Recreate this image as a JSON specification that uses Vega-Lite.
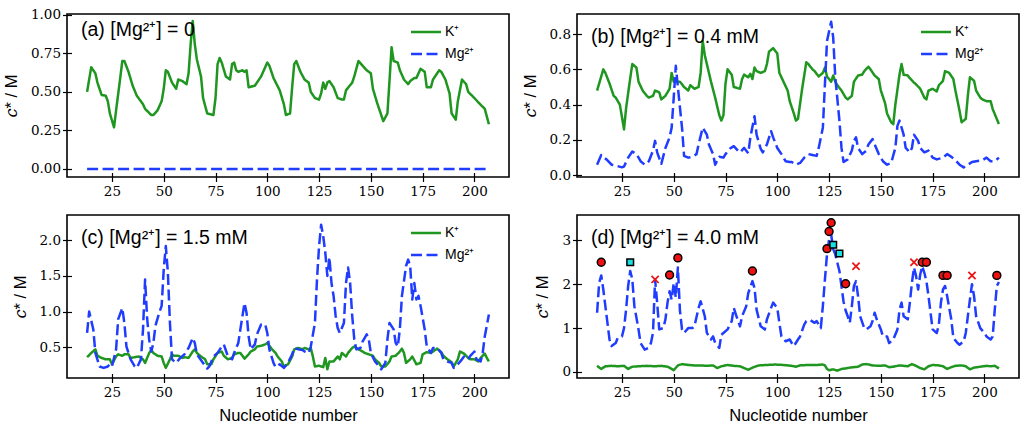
{
  "$schema": "https://vega.github.io/schema/vega-lite/v6.json",
  "background": "white",
  "padding": {"left": 2, "top": 6, "right": 5, "bottom": 5},
  "config": {
    "font": "Liberation Sans",
    "view": {"stroke": "black", "strokeWidth": 1.6},
    "axis": {
      "domain": false, "grid": false, "offset": -4.5, "tickSize": 9, "tickWidth": 1.2,
      "tickColor": "black", "labelFont": "DejaVu Serif", "labelFontSize": 13.5, "labelColor": "black",
      "titleFont": "Liberation Sans", "titleFontSize": 16.5, "titleFontWeight": "normal", "titleColor": "black"
    },
    "axisX": {"labelPadding": 3, "titlePadding": 8},
    "axisY": {"labelPadding": 2, "titlePadding": 11},
    "legend": {
      "orient": "none", "legendX": 352, "legendY": 11, "padding": 0, "symbolType": "M-3,0H3", "symbolSize": 100,
      "symbolStrokeWidth": 2.5, "labelFont": "Liberation Sans", "labelFontSize": 14, "labelColor": "black",
      "labelOffset": 12, "rowPadding": 8
    },
    "title": {
      "anchor": "start", "frame": "group", "font": "Liberation Sans", "fontSize": 19.5, "fontWeight": "normal",
      "color": "black", "dx": 14, "offset": -33, "baseline": "alphabetic"
    },
    "line": {"strokeWidth": 2.5, "strokeJoin": "round"}
  },
  "datasets": {
    "aK": [
      {"n":13,"K":0.50},{"n":15,"K":0.66},{"n":17,"K":0.62},{"n":18,"K":0.56},{"n":20,"K":0.48},{"n":22,"K":0.475},{"n":23,"K":0.44},{"n":24,"K":0.36},{"n":26,"K":0.27},{"n":27,"K":0.38},{"n":29,"K":0.59},{"n":30,"K":0.70},{"n":31,"K":0.70},{"n":33,"K":0.63},{"n":35,"K":0.54},{"n":37,"K":0.475},{"n":40,"K":0.42},{"n":41,"K":0.39},{"n":44,"K":0.35},{"n":45,"K":0.35},{"n":47,"K":0.38},{"n":49,"K":0.44},{"n":50,"K":0.52},{"n":51,"K":0.64},{"n":52,"K":0.63},{"n":54,"K":0.56},{"n":56,"K":0.52},{"n":57,"K":0.58},{"n":59,"K":0.57},{"n":61,"K":0.55},{"n":62,"K":0.62},{"n":63,"K":0.81},{"n":64,"K":0.96},{"n":65,"K":0.81},{"n":66,"K":0.71},{"n":68,"K":0.60},{"n":69,"K":0.46},{"n":71,"K":0.36},{"n":74,"K":0.35},{"n":75,"K":0.46},{"n":76,"K":0.68},{"n":77,"K":0.72},{"n":78,"K":0.69},{"n":80,"K":0.60},{"n":82,"K":0.58},{"n":83,"K":0.68},{"n":84,"K":0.69},{"n":85,"K":0.64},{"n":86,"K":0.63},{"n":88,"K":0.64},{"n":89,"K":0.63},{"n":90,"K":0.64},{"n":91,"K":0.53},{"n":94,"K":0.54},{"n":95,"K":0.56},{"n":97,"K":0.60},{"n":100,"K":0.69},{"n":101,"K":0.67},{"n":103,"K":0.59},{"n":106,"K":0.51},{"n":108,"K":0.42},{"n":109,"K":0.35},{"n":111,"K":0.36},{"n":112,"K":0.53},{"n":113,"K":0.68},{"n":114,"K":0.70},{"n":116,"K":0.63},{"n":118,"K":0.58},{"n":120,"K":0.56},{"n":121,"K":0.50},{"n":123,"K":0.46},{"n":125,"K":0.45},{"n":126,"K":0.49},{"n":127,"K":0.56},{"n":128,"K":0.52},{"n":129,"K":0.56},{"n":130,"K":0.57},{"n":132,"K":0.53},{"n":134,"K":0.46},{"n":136,"K":0.45},{"n":137,"K":0.45},{"n":138,"K":0.51},{"n":141,"K":0.56},{"n":142,"K":0.60},{"n":144,"K":0.70},{"n":146,"K":0.67},{"n":148,"K":0.64},{"n":150,"K":0.62},{"n":151,"K":0.52},{"n":153,"K":0.43},{"n":155,"K":0.35},{"n":156,"K":0.31},{"n":158,"K":0.36},{"n":159,"K":0.57},{"n":160,"K":0.79},{"n":161,"K":0.70},{"n":163,"K":0.69},{"n":164,"K":0.64},{"n":166,"K":0.58},{"n":168,"K":0.55},{"n":169,"K":0.57},{"n":171,"K":0.59},{"n":172,"K":0.59},{"n":174,"K":0.65},{"n":176,"K":0.63},{"n":177,"K":0.53},{"n":179,"K":0.53},{"n":180,"K":0.58},{"n":183,"K":0.64},{"n":184,"K":0.63},{"n":186,"K":0.58},{"n":188,"K":0.49},{"n":189,"K":0.36},{"n":191,"K":0.32},{"n":192,"K":0.44},{"n":194,"K":0.58},{"n":196,"K":0.55},{"n":197,"K":0.50},{"n":200,"K":0.46},{"n":202,"K":0.43},{"n":205,"K":0.39},{"n":207,"K":0.29}
    ],
    "aMg": [{"n":13,"Mg":0},{"n":207,"Mg":0}],
    "bK": [
      {"n":13,"K":0.48},{"n":16,"K":0.60},{"n":17,"K":0.58},{"n":19,"K":0.52},{"n":21,"K":0.45},{"n":22,"K":0.44},{"n":24,"K":0.40},{"n":26,"K":0.26},{"n":27,"K":0.38},{"n":29,"K":0.55},{"n":30,"K":0.63},{"n":32,"K":0.61},{"n":33,"K":0.53},{"n":35,"K":0.48},{"n":37,"K":0.45},{"n":38,"K":0.44},{"n":40,"K":0.45},{"n":41,"K":0.48},{"n":43,"K":0.47},{"n":44,"K":0.43},{"n":46,"K":0.45},{"n":48,"K":0.49},{"n":49,"K":0.58},{"n":50,"K":0.53},{"n":52,"K":0.53},{"n":53,"K":0.53},{"n":55,"K":0.50},{"n":57,"K":0.48},{"n":58,"K":0.51},{"n":60,"K":0.49},{"n":62,"K":0.50},{"n":63,"K":0.58},{"n":64,"K":0.76},{"n":65,"K":0.68},{"n":67,"K":0.58},{"n":68,"K":0.53},{"n":70,"K":0.44},{"n":72,"K":0.34},{"n":73,"K":0.31},{"n":74,"K":0.34},{"n":75,"K":0.52},{"n":76,"K":0.60},{"n":78,"K":0.57},{"n":79,"K":0.50},{"n":82,"K":0.49},{"n":83,"K":0.545},{"n":84,"K":0.57},{"n":86,"K":0.555},{"n":87,"K":0.575},{"n":88,"K":0.545},{"n":89,"K":0.61},{"n":90,"K":0.59},{"n":92,"K":0.58},{"n":94,"K":0.59},{"n":95,"K":0.63},{"n":96,"K":0.70},{"n":98,"K":0.72},{"n":100,"K":0.69},{"n":101,"K":0.58},{"n":103,"K":0.53},{"n":105,"K":0.48},{"n":106,"K":0.42},{"n":108,"K":0.35},{"n":109,"K":0.31},{"n":110,"K":0.32},{"n":112,"K":0.49},{"n":114,"K":0.64},{"n":115,"K":0.63},{"n":117,"K":0.60},{"n":118,"K":0.59},{"n":120,"K":0.56},{"n":122,"K":0.58},{"n":123,"K":0.61},{"n":124,"K":0.56},{"n":126,"K":0.53},{"n":127,"K":0.565},{"n":128,"K":0.53},{"n":129,"K":0.51},{"n":131,"K":0.48},{"n":133,"K":0.44},{"n":134,"K":0.43},{"n":136,"K":0.45},{"n":137,"K":0.53},{"n":139,"K":0.565},{"n":141,"K":0.57},{"n":142,"K":0.59},{"n":144,"K":0.615},{"n":145,"K":0.60},{"n":147,"K":0.565},{"n":149,"K":0.545},{"n":150,"K":0.48},{"n":152,"K":0.41},{"n":153,"K":0.35},{"n":155,"K":0.30},{"n":156,"K":0.29},{"n":157,"K":0.40},{"n":159,"K":0.57},{"n":160,"K":0.63},{"n":161,"K":0.57},{"n":163,"K":0.565},{"n":164,"K":0.55},{"n":166,"K":0.525},{"n":167,"K":0.515},{"n":169,"K":0.49},{"n":171,"K":0.44},{"n":172,"K":0.43},{"n":173,"K":0.48},{"n":175,"K":0.49},{"n":177,"K":0.475},{"n":178,"K":0.51},{"n":180,"K":0.535},{"n":181,"K":0.59},{"n":183,"K":0.58},{"n":185,"K":0.545},{"n":186,"K":0.48},{"n":188,"K":0.365},{"n":189,"K":0.30},{"n":191,"K":0.32},{"n":192,"K":0.45},{"n":193,"K":0.555},{"n":195,"K":0.535},{"n":196,"K":0.48},{"n":198,"K":0.44},{"n":199,"K":0.43},{"n":201,"K":0.42},{"n":203,"K":0.42},{"n":204,"K":0.375},{"n":207,"K":0.29}
    ],
    "bMg": [
      {"n":13,"Mg":0.06},{"n":15,"Mg":0.115},{"n":18,"Mg":0.085},{"n":20,"Mg":0.06},{"n":22,"Mg":0.055},{"n":25,"Mg":0.045},{"n":26,"Mg":0.05},{"n":28,"Mg":0.10},{"n":30,"Mg":0.135},{"n":32,"Mg":0.12},{"n":34,"Mg":0.08},{"n":36,"Mg":0.06},{"n":38,"Mg":0.08},{"n":40,"Mg":0.14},{"n":41,"Mg":0.195},{"n":42,"Mg":0.13},{"n":44,"Mg":0.065},{"n":45,"Mg":0.11},{"n":46,"Mg":0.155},{"n":48,"Mg":0.215},{"n":49,"Mg":0.27},{"n":50,"Mg":0.44},{"n":51,"Mg":0.62},{"n":52,"Mg":0.50},{"n":54,"Mg":0.27},{"n":55,"Mg":0.11},{"n":57,"Mg":0.10},{"n":59,"Mg":0.105},{"n":61,"Mg":0.12},{"n":62,"Mg":0.175},{"n":64,"Mg":0.27},{"n":66,"Mg":0.23},{"n":67,"Mg":0.175},{"n":69,"Mg":0.12},{"n":70,"Mg":0.06},{"n":72,"Mg":0.105},{"n":74,"Mg":0.10},{"n":75,"Mg":0.12},{"n":77,"Mg":0.15},{"n":79,"Mg":0.165},{"n":81,"Mg":0.14},{"n":82,"Mg":0.13},{"n":84,"Mg":0.155},{"n":86,"Mg":0.125},{"n":87,"Mg":0.215},{"n":89,"Mg":0.335},{"n":90,"Mg":0.23},{"n":92,"Mg":0.15},{"n":93,"Mg":0.13},{"n":95,"Mg":0.175},{"n":97,"Mg":0.25},{"n":98,"Mg":0.215},{"n":100,"Mg":0.155},{"n":102,"Mg":0.12},{"n":104,"Mg":0.08},{"n":106,"Mg":0.075},{"n":107,"Mg":0.075},{"n":109,"Mg":0.06},{"n":111,"Mg":0.07},{"n":113,"Mg":0.10},{"n":115,"Mg":0.12},{"n":117,"Mg":0.115},{"n":119,"Mg":0.11},{"n":120,"Mg":0.155},{"n":122,"Mg":0.27},{"n":123,"Mg":0.515},{"n":124,"Mg":0.76},{"n":126,"Mg":0.87},{"n":127,"Mg":0.78},{"n":128,"Mg":0.555},{"n":130,"Mg":0.31},{"n":131,"Mg":0.155},{"n":132,"Mg":0.075},{"n":134,"Mg":0.09},{"n":136,"Mg":0.14},{"n":137,"Mg":0.195},{"n":138,"Mg":0.215},{"n":139,"Mg":0.155},{"n":141,"Mg":0.12},{"n":143,"Mg":0.14},{"n":144,"Mg":0.175},{"n":146,"Mg":0.205},{"n":147,"Mg":0.175},{"n":149,"Mg":0.12},{"n":151,"Mg":0.08},{"n":153,"Mg":0.06},{"n":155,"Mg":0.07},{"n":157,"Mg":0.155},{"n":158,"Mg":0.28},{"n":159,"Mg":0.31},{"n":161,"Mg":0.23},{"n":162,"Mg":0.155},{"n":164,"Mg":0.13},{"n":165,"Mg":0.155},{"n":166,"Mg":0.23},{"n":168,"Mg":0.195},{"n":169,"Mg":0.155},{"n":171,"Mg":0.13},{"n":173,"Mg":0.14},{"n":175,"Mg":0.10},{"n":177,"Mg":0.09},{"n":180,"Mg":0.10},{"n":182,"Mg":0.12},{"n":184,"Mg":0.105},{"n":186,"Mg":0.085},{"n":188,"Mg":0.06},{"n":190,"Mg":0.045},{"n":192,"Mg":0.06},{"n":194,"Mg":0.075},{"n":196,"Mg":0.08},{"n":199,"Mg":0.085},{"n":201,"Mg":0.10},{"n":203,"Mg":0.08},{"n":205,"Mg":0.08},{"n":207,"Mg":0.10}
    ],
    "cK": [
      {"n":13,"K":0.36},{"n":15,"K":0.42},{"n":17,"K":0.47},{"n":18,"K":0.38},{"n":20,"K":0.35},{"n":22,"K":0.33},{"n":24,"K":0.33},{"n":25,"K":0.26},{"n":27,"K":0.37},{"n":28,"K":0.40},{"n":30,"K":0.38},{"n":31,"K":0.40},{"n":33,"K":0.40},{"n":34,"K":0.35},{"n":36,"K":0.36},{"n":38,"K":0.37},{"n":40,"K":0.33},{"n":41,"K":0.28},{"n":43,"K":0.42},{"n":44,"K":0.46},{"n":45,"K":0.42},{"n":47,"K":0.38},{"n":49,"K":0.37},{"n":50,"K":0.28},{"n":51,"K":0.21},{"n":53,"K":0.33},{"n":54,"K":0.40},{"n":55,"K":0.38},{"n":57,"K":0.38},{"n":59,"K":0.35},{"n":60,"K":0.36},{"n":62,"K":0.35},{"n":64,"K":0.44},{"n":65,"K":0.47},{"n":66,"K":0.42},{"n":68,"K":0.37},{"n":70,"K":0.33},{"n":71,"K":0.26},{"n":73,"K":0.26},{"n":74,"K":0.33},{"n":76,"K":0.42},{"n":78,"K":0.44},{"n":79,"K":0.38},{"n":81,"K":0.33},{"n":83,"K":0.35},{"n":84,"K":0.40},{"n":86,"K":0.42},{"n":87,"K":0.42},{"n":89,"K":0.34},{"n":91,"K":0.40},{"n":92,"K":0.44},{"n":94,"K":0.47},{"n":95,"K":0.51},{"n":97,"K":0.52},{"n":99,"K":0.54},{"n":100,"K":0.56},{"n":102,"K":0.48},{"n":104,"K":0.42},{"n":105,"K":0.37},{"n":107,"K":0.30},{"n":108,"K":0.23},{"n":110,"K":0.26},{"n":112,"K":0.37},{"n":113,"K":0.47},{"n":115,"K":0.49},{"n":117,"K":0.47},{"n":118,"K":0.49},{"n":120,"K":0.47},{"n":121,"K":0.49},{"n":122,"K":0.37},{"n":123,"K":0.23},{"n":125,"K":0.24},{"n":127,"K":0.22},{"n":128,"K":0.35},{"n":129,"K":0.19},{"n":130,"K":0.30},{"n":132,"K":0.30},{"n":134,"K":0.37},{"n":135,"K":0.33},{"n":136,"K":0.42},{"n":138,"K":0.37},{"n":139,"K":0.42},{"n":141,"K":0.49},{"n":142,"K":0.51},{"n":144,"K":0.47},{"n":146,"K":0.44},{"n":147,"K":0.42},{"n":149,"K":0.40},{"n":151,"K":0.38},{"n":152,"K":0.33},{"n":154,"K":0.28},{"n":155,"K":0.23},{"n":157,"K":0.23},{"n":159,"K":0.30},{"n":160,"K":0.37},{"n":162,"K":0.38},{"n":164,"K":0.44},{"n":165,"K":0.48},{"n":166,"K":0.42},{"n":167,"K":0.28},{"n":169,"K":0.33},{"n":170,"K":0.37},{"n":172,"K":0.26},{"n":174,"K":0.28},{"n":175,"K":0.40},{"n":177,"K":0.43},{"n":179,"K":0.42},{"n":180,"K":0.44},{"n":182,"K":0.48},{"n":184,"K":0.43},{"n":185,"K":0.38},{"n":187,"K":0.33},{"n":189,"K":0.29},{"n":190,"K":0.23},{"n":192,"K":0.33},{"n":193,"K":0.44},{"n":195,"K":0.41},{"n":197,"K":0.35},{"n":198,"K":0.33},{"n":200,"K":0.33},{"n":202,"K":0.30},{"n":203,"K":0.35},{"n":205,"K":0.41},{"n":206,"K":0.35},{"n":207,"K":0.30}
    ],
    "cMg": [
      {"n":13,"Mg":0.70},{"n":14,"Mg":1.00},{"n":16,"Mg":0.75},{"n":17,"Mg":0.42},{"n":19,"Mg":0.23},{"n":21,"Mg":0.21},{"n":23,"Mg":0.23},{"n":24,"Mg":0.26},{"n":25,"Mg":0.23},{"n":27,"Mg":0.47},{"n":28,"Mg":0.89},{"n":30,"Mg":1.05},{"n":31,"Mg":0.84},{"n":32,"Mg":0.51},{"n":34,"Mg":0.33},{"n":36,"Mg":0.23},{"n":37,"Mg":0.21},{"n":39,"Mg":0.33},{"n":40,"Mg":0.75},{"n":41,"Mg":1.45},{"n":42,"Mg":0.90},{"n":43,"Mg":0.60},{"n":44,"Mg":0.44},{"n":45,"Mg":0.56},{"n":46,"Mg":0.80},{"n":48,"Mg":1.00},{"n":49,"Mg":1.08},{"n":50,"Mg":1.59},{"n":51,"Mg":1.92},{"n":52,"Mg":1.55},{"n":53,"Mg":0.84},{"n":54,"Mg":0.33},{"n":56,"Mg":0.28},{"n":58,"Mg":0.35},{"n":60,"Mg":0.40},{"n":62,"Mg":0.49},{"n":64,"Mg":0.63},{"n":65,"Mg":0.56},{"n":66,"Mg":0.40},{"n":69,"Mg":0.28},{"n":71,"Mg":0.20},{"n":72,"Mg":0.23},{"n":74,"Mg":0.37},{"n":76,"Mg":0.42},{"n":78,"Mg":0.51},{"n":79,"Mg":0.54},{"n":81,"Mg":0.37},{"n":83,"Mg":0.33},{"n":84,"Mg":0.42},{"n":86,"Mg":0.56},{"n":87,"Mg":0.75},{"n":89,"Mg":1.12},{"n":90,"Mg":0.98},{"n":91,"Mg":0.65},{"n":92,"Mg":0.47},{"n":94,"Mg":0.54},{"n":95,"Mg":0.68},{"n":97,"Mg":0.82},{"n":99,"Mg":0.82},{"n":100,"Mg":0.70},{"n":101,"Mg":0.47},{"n":103,"Mg":0.28},{"n":104,"Mg":0.22},{"n":106,"Mg":0.26},{"n":108,"Mg":0.21},{"n":110,"Mg":0.28},{"n":112,"Mg":0.40},{"n":113,"Mg":0.49},{"n":115,"Mg":0.47},{"n":117,"Mg":0.46},{"n":118,"Mg":0.44},{"n":120,"Mg":0.42},{"n":121,"Mg":0.51},{"n":123,"Mg":0.84},{"n":124,"Mg":1.45},{"n":125,"Mg":1.92},{"n":126,"Mg":2.22},{"n":127,"Mg":2.06},{"n":128,"Mg":1.83},{"n":129,"Mg":1.50},{"n":130,"Mg":1.76},{"n":131,"Mg":1.40},{"n":132,"Mg":1.22},{"n":133,"Mg":0.94},{"n":134,"Mg":0.77},{"n":135,"Mg":0.70},{"n":137,"Mg":0.84},{"n":138,"Mg":1.40},{"n":139,"Mg":1.62},{"n":140,"Mg":1.40},{"n":141,"Mg":0.94},{"n":142,"Mg":0.61},{"n":143,"Mg":0.47},{"n":145,"Mg":0.49},{"n":146,"Mg":0.58},{"n":148,"Mg":0.68},{"n":149,"Mg":0.61},{"n":150,"Mg":0.42},{"n":152,"Mg":0.30},{"n":154,"Mg":0.23},{"n":155,"Mg":0.19},{"n":157,"Mg":0.28},{"n":158,"Mg":0.61},{"n":159,"Mg":0.84},{"n":161,"Mg":0.75},{"n":162,"Mg":0.56},{"n":163,"Mg":0.51},{"n":164,"Mg":0.75},{"n":165,"Mg":1.22},{"n":167,"Mg":1.64},{"n":168,"Mg":1.73},{"n":169,"Mg":1.64},{"n":170,"Mg":1.17},{"n":171,"Mg":1.40},{"n":172,"Mg":1.17},{"n":173,"Mg":1.22},{"n":174,"Mg":1.08},{"n":176,"Mg":0.75},{"n":177,"Mg":0.51},{"n":179,"Mg":0.42},{"n":180,"Mg":0.49},{"n":182,"Mg":0.49},{"n":184,"Mg":0.42},{"n":185,"Mg":0.33},{"n":187,"Mg":0.30},{"n":189,"Mg":0.28},{"n":190,"Mg":0.21},{"n":192,"Mg":0.26},{"n":194,"Mg":0.33},{"n":195,"Mg":0.37},{"n":197,"Mg":0.33},{"n":198,"Mg":0.38},{"n":200,"Mg":0.44},{"n":201,"Mg":0.33},{"n":203,"Mg":0.30},{"n":204,"Mg":0.42},{"n":205,"Mg":0.65},{"n":207,"Mg":0.96}
    ],
    "dK": [
      {"n":13,"K":0.14},{"n":15,"K":0.07},{"n":17,"K":0.13},{"n":20,"K":0.14},{"n":23,"K":0.13},{"n":26,"K":0.14},{"n":28,"K":0.07},{"n":30,"K":0.12},{"n":33,"K":0.13},{"n":37,"K":0.14},{"n":41,"K":0.13},{"n":44,"K":0.14},{"n":47,"K":0.12},{"n":49,"K":0.07},{"n":50,"K":0.04},{"n":52,"K":0.15},{"n":54,"K":0.18},{"n":57,"K":0.16},{"n":60,"K":0.15},{"n":63,"K":0.15},{"n":66,"K":0.14},{"n":69,"K":0.15},{"n":71,"K":0.09},{"n":73,"K":0.13},{"n":76,"K":0.16},{"n":79,"K":0.14},{"n":82,"K":0.13},{"n":84,"K":0.09},{"n":86,"K":0.05},{"n":88,"K":0.10},{"n":91,"K":0.15},{"n":95,"K":0.16},{"n":99,"K":0.17},{"n":103,"K":0.16},{"n":107,"K":0.14},{"n":109,"K":0.12},{"n":111,"K":0.15},{"n":115,"K":0.16},{"n":119,"K":0.16},{"n":122,"K":0.17},{"n":123,"K":0.15},{"n":124,"K":0.07},{"n":125,"K":0.04},{"n":127,"K":0.06},{"n":129,"K":0.03},{"n":131,"K":0.07},{"n":133,"K":0.08},{"n":135,"K":0.10},{"n":137,"K":0.11},{"n":139,"K":0.12},{"n":141,"K":0.17},{"n":143,"K":0.18},{"n":146,"K":0.15},{"n":149,"K":0.14},{"n":152,"K":0.15},{"n":154,"K":0.11},{"n":156,"K":0.12},{"n":159,"K":0.15},{"n":161,"K":0.14},{"n":163,"K":0.13},{"n":165,"K":0.18},{"n":167,"K":0.14},{"n":169,"K":0.09},{"n":171,"K":0.06},{"n":173,"K":0.13},{"n":175,"K":0.16},{"n":178,"K":0.15},{"n":180,"K":0.13},{"n":182,"K":0.07},{"n":184,"K":0.11},{"n":186,"K":0.14},{"n":189,"K":0.15},{"n":191,"K":0.13},{"n":193,"K":0.06},{"n":195,"K":0.10},{"n":198,"K":0.12},{"n":201,"K":0.14},{"n":203,"K":0.13},{"n":205,"K":0.14},{"n":207,"K":0.08}
    ],
    "dMg": [
      {"n":13,"Mg":1.35},{"n":14,"Mg":2.03},{"n":15,"Mg":2.20},{"n":16,"Mg":1.88},{"n":18,"Mg":1.12},{"n":19,"Mg":0.74},{"n":20,"Mg":0.59},{"n":22,"Mg":0.66},{"n":23,"Mg":0.78},{"n":25,"Mg":0.81},{"n":26,"Mg":1.00},{"n":27,"Mg":1.42},{"n":28,"Mg":1.96},{"n":29,"Mg":2.30},{"n":30,"Mg":2.11},{"n":31,"Mg":1.50},{"n":33,"Mg":0.97},{"n":34,"Mg":0.66},{"n":36,"Mg":0.51},{"n":38,"Mg":0.55},{"n":39,"Mg":0.66},{"n":40,"Mg":0.90},{"n":41,"Mg":2.11},{"n":42,"Mg":1.58},{"n":43,"Mg":0.97},{"n":45,"Mg":1.00},{"n":46,"Mg":1.20},{"n":47,"Mg":1.58},{"n":48,"Mg":1.84},{"n":49,"Mg":1.65},{"n":50,"Mg":2.03},{"n":51,"Mg":1.70},{"n":52,"Mg":2.38},{"n":53,"Mg":1.40},{"n":54,"Mg":0.97},{"n":55,"Mg":0.89},{"n":57,"Mg":1.00},{"n":59,"Mg":1.00},{"n":60,"Mg":1.04},{"n":62,"Mg":1.46},{"n":63,"Mg":1.61},{"n":65,"Mg":1.27},{"n":66,"Mg":0.89},{"n":68,"Mg":0.74},{"n":69,"Mg":0.81},{"n":70,"Mg":0.66},{"n":72,"Mg":0.55},{"n":73,"Mg":0.85},{"n":74,"Mg":0.89},{"n":76,"Mg":0.97},{"n":78,"Mg":1.16},{"n":79,"Mg":1.46},{"n":80,"Mg":1.31},{"n":82,"Mg":1.04},{"n":83,"Mg":1.27},{"n":85,"Mg":1.50},{"n":86,"Mg":1.80},{"n":88,"Mg":2.07},{"n":89,"Mg":1.92},{"n":90,"Mg":1.42},{"n":92,"Mg":1.04},{"n":94,"Mg":0.97},{"n":95,"Mg":1.20},{"n":97,"Mg":1.46},{"n":98,"Mg":1.58},{"n":100,"Mg":1.46},{"n":101,"Mg":1.12},{"n":102,"Mg":0.81},{"n":104,"Mg":0.70},{"n":106,"Mg":0.74},{"n":107,"Mg":0.66},{"n":108,"Mg":0.59},{"n":110,"Mg":0.74},{"n":111,"Mg":0.81},{"n":113,"Mg":1.08},{"n":114,"Mg":1.16},{"n":116,"Mg":1.18},{"n":118,"Mg":1.12},{"n":119,"Mg":1.16},{"n":121,"Mg":1.00},{"n":122,"Mg":1.50},{"n":123,"Mg":2.11},{"n":124,"Mg":2.68},{"n":125,"Mg":3.02},{"n":126,"Mg":3.14},{"n":127,"Mg":2.80},{"n":128,"Mg":2.68},{"n":129,"Mg":2.49},{"n":130,"Mg":2.30},{"n":131,"Mg":1.95},{"n":132,"Mg":1.60},{"n":133,"Mg":1.40},{"n":134,"Mg":1.27},{"n":135,"Mg":1.12},{"n":136,"Mg":1.50},{"n":137,"Mg":1.96},{"n":138,"Mg":2.07},{"n":139,"Mg":1.73},{"n":140,"Mg":1.27},{"n":142,"Mg":1.00},{"n":143,"Mg":0.97},{"n":145,"Mg":1.04},{"n":146,"Mg":1.16},{"n":147,"Mg":1.35},{"n":148,"Mg":1.20},{"n":150,"Mg":0.97},{"n":151,"Mg":0.81},{"n":153,"Mg":0.81},{"n":154,"Mg":0.66},{"n":156,"Mg":0.74},{"n":158,"Mg":0.97},{"n":159,"Mg":1.42},{"n":160,"Mg":1.58},{"n":161,"Mg":1.27},{"n":163,"Mg":1.20},{"n":164,"Mg":1.58},{"n":165,"Mg":2.03},{"n":166,"Mg":2.38},{"n":167,"Mg":2.19},{"n":168,"Mg":1.88},{"n":169,"Mg":2.22},{"n":170,"Mg":2.41},{"n":171,"Mg":2.26},{"n":172,"Mg":2.07},{"n":173,"Mg":1.73},{"n":174,"Mg":1.35},{"n":175,"Mg":0.97},{"n":177,"Mg":0.89},{"n":178,"Mg":1.08},{"n":179,"Mg":1.58},{"n":180,"Mg":1.88},{"n":181,"Mg":1.96},{"n":182,"Mg":1.73},{"n":184,"Mg":1.20},{"n":185,"Mg":0.78},{"n":187,"Mg":0.66},{"n":188,"Mg":0.62},{"n":190,"Mg":0.70},{"n":191,"Mg":0.89},{"n":193,"Mg":1.65},{"n":194,"Mg":2.00},{"n":195,"Mg":1.73},{"n":196,"Mg":1.27},{"n":198,"Mg":1.00},{"n":200,"Mg":0.89},{"n":201,"Mg":0.81},{"n":203,"Mg":0.74},{"n":204,"Mg":0.81},{"n":205,"Mg":1.42},{"n":206,"Mg":1.96},{"n":207,"Mg":2.05}
    ],
    "dCircle": [
      {"n":15,"c":2.5},{"n":48,"c":2.21},{"n":52,"c":2.6},{"n":88,"c":2.3},{"n":124,"c":2.81},{"n":125,"c":3.2},{"n":126,"c":3.4},{"n":133,"c":2.01},{"n":170,"c":2.5},{"n":172,"c":2.5},{"n":180,"c":2.2},{"n":182,"c":2.2},{"n":206,"c":2.2}
    ],
    "dSquare": [{"n":29,"c":2.5},{"n":127,"c":2.9},{"n":130,"c":2.7}],
    "dCross": [{"n":41,"c":2.11},{"n":138,"c":2.41},{"n":166,"c":2.5},{"n":194,"c":2.2}]
  },
  "columns": 2,
  "spacing": {"row": 38, "column": 68},
  "bounds": "flush",
  "resolve": {
    "scale": {"color": "independent", "strokeDash": "independent"},
    "legend": {"color": "independent", "strokeDash": "independent"}
  },
  "concat": [
    {
      "title": {"text": "(a) [Mg²⁺] = 0"},
      "width": 442, "height": 163,
      "encoding": {
        "x": {"field": "n", "type": "quantitative", "scale": {"domain": [3.3, 216.7], "nice": false, "zero": false}, "axis": {"values": [25, 50, 75, 100, 125, 150, 175, 200], "title": null}},
        "y": {"field": "c", "type": "quantitative", "scale": {"domain": [-0.052, 1.005], "nice": false, "zero": false}, "axis": {"values": [0, 0.25, 0.5, 0.75, 1], "format": ".2f", "title": "𝑐* / M"}},
        "color": {"field": "ion", "type": "nominal", "scale": {"domain": ["K", "Mg"], "range": ["#1f961f", "#1f3cff"]}, "legend": {"title": null, "labelExpr": "datum.label == 'K' ? 'K⁺' : 'Mg²⁺'"}},
        "strokeDash": {"field": "ion", "type": "nominal", "scale": {"domain": ["K", "Mg"], "range": [[1, 0], [11, 4.5]]}, "legend": {"title": null, "labelExpr": "datum.label == 'K' ? 'K⁺' : 'Mg²⁺'"}}
      },
      "layer": [
        {"data": {"name": "aK"}, "transform": [{"fold": ["K"], "as": ["ion", "c"]}], "mark": "line"},
        {"data": {"name": "aMg"}, "transform": [{"fold": ["Mg"], "as": ["ion", "c"]}], "mark": "line"}
      ]
    },
    {
      "title": {"text": "(b) [Mg²⁺] = 0.4 mM"},
      "width": 442, "height": 163,
      "encoding": {
        "x": {"field": "n", "type": "quantitative", "scale": {"domain": [3.3, 216.7], "nice": false, "zero": false}, "axis": {"values": [25, 50, 75, 100, 125, 150, 175, 200], "title": null}},
        "y": {"field": "c", "type": "quantitative", "scale": {"domain": [-0.0096, 0.9135], "nice": false, "zero": false}, "axis": {"values": [0, 0.2, 0.4, 0.6, 0.8], "format": ".1f", "title": "𝑐* / M"}},
        "color": {"field": "ion", "type": "nominal", "scale": {"domain": ["K", "Mg"], "range": ["#1f961f", "#1f3cff"]}, "legend": {"title": null, "labelExpr": "datum.label == 'K' ? 'K⁺' : 'Mg²⁺'"}},
        "strokeDash": {"field": "ion", "type": "nominal", "scale": {"domain": ["K", "Mg"], "range": [[1, 0], [11, 4.5]]}, "legend": {"title": null, "labelExpr": "datum.label == 'K' ? 'K⁺' : 'Mg²⁺'"}}
      },
      "layer": [
        {"data": {"name": "bK"}, "transform": [{"fold": ["K"], "as": ["ion", "c"]}], "mark": "line"},
        {"data": {"name": "bMg"}, "transform": [{"fold": ["Mg"], "as": ["ion", "c"]}], "mark": "line"}
      ]
    },
    {
      "title": {"text": "(c) [Mg²⁺] = 1.5 mM"},
      "width": 442, "height": 163,
      "encoding": {
        "x": {"field": "n", "type": "quantitative", "scale": {"domain": [3.3, 216.7], "nice": false, "zero": false}, "axis": {"values": [25, 50, 75, 100, 125, 150, 175, 200], "title": "Nucleotide number"}},
        "y": {"field": "c", "type": "quantitative", "scale": {"domain": [0.068, 2.356], "nice": false, "zero": false}, "axis": {"values": [0.5, 1, 1.5, 2], "format": ".1f", "title": "𝑐* / M"}},
        "color": {"field": "ion", "type": "nominal", "scale": {"domain": ["K", "Mg"], "range": ["#1f961f", "#1f3cff"]}, "legend": {"title": null, "labelExpr": "datum.label == 'K' ? 'K⁺' : 'Mg²⁺'"}},
        "strokeDash": {"field": "ion", "type": "nominal", "scale": {"domain": ["K", "Mg"], "range": [[1, 0], [11, 4.5]]}, "legend": {"title": null, "labelExpr": "datum.label == 'K' ? 'K⁺' : 'Mg²⁺'"}}
      },
      "layer": [
        {"data": {"name": "cK"}, "transform": [{"fold": ["K"], "as": ["ion", "c"]}], "mark": "line"},
        {"data": {"name": "cMg"}, "transform": [{"fold": ["Mg"], "as": ["ion", "c"]}], "mark": "line"}
      ]
    },
    {
      "title": {"text": "(d) [Mg²⁺] = 4.0 mM"},
      "width": 442, "height": 163,
      "encoding": {
        "x": {"field": "n", "type": "quantitative", "scale": {"domain": [3.3, 216.7], "nice": false, "zero": false}, "axis": {"values": [25, 50, 75, 100, 125, 150, 175, 200], "title": "Nucleotide number"}},
        "y": {"field": "c", "type": "quantitative", "scale": {"domain": [-0.137, 3.577], "nice": false, "zero": false}, "axis": {"values": [0, 1, 2, 3], "format": "d", "title": "𝑐* / M"}}
      },
      "layer": [
        {"data": {"name": "dK"}, "transform": [{"fold": ["K"], "as": ["ion", "c"]}], "mark": "line",
         "encoding": {
           "color": {"field": "ion", "type": "nominal", "scale": {"domain": ["K", "Mg"], "range": ["#1f961f", "#1f3cff"]}, "legend": null},
           "strokeDash": {"field": "ion", "type": "nominal", "scale": {"domain": ["K", "Mg"], "range": [[1, 0], [11, 4.5]]}, "legend": null}
         }},
        {"data": {"name": "dMg"}, "transform": [{"fold": ["Mg"], "as": ["ion", "c"]}], "mark": "line",
         "encoding": {
           "color": {"field": "ion", "type": "nominal", "scale": {"domain": ["K", "Mg"], "range": ["#1f961f", "#1f3cff"]}, "legend": null},
           "strokeDash": {"field": "ion", "type": "nominal", "scale": {"domain": ["K", "Mg"], "range": [[1, 0], [11, 4.5]]}, "legend": null}
         }},
        {"data": {"name": "dCircle"}, "mark": {"type": "point", "shape": "circle", "filled": true, "fill": "#ee1111", "stroke": "black", "strokeWidth": 1.5, "size": 62, "opacity": 1}},
        {"data": {"name": "dSquare"}, "mark": {"type": "point", "shape": "square", "filled": true, "fill": "#19e0e0", "stroke": "black", "strokeWidth": 1.5, "size": 44, "opacity": 1}},
        {"data": {"name": "dCross"}, "mark": {"type": "point", "shape": "M-1,-1L1,1M-1,1L1,-1", "filled": false, "stroke": "#ee1111", "strokeWidth": 1.7, "size": 52, "opacity": 1}}
      ]
    }
  ]
}
